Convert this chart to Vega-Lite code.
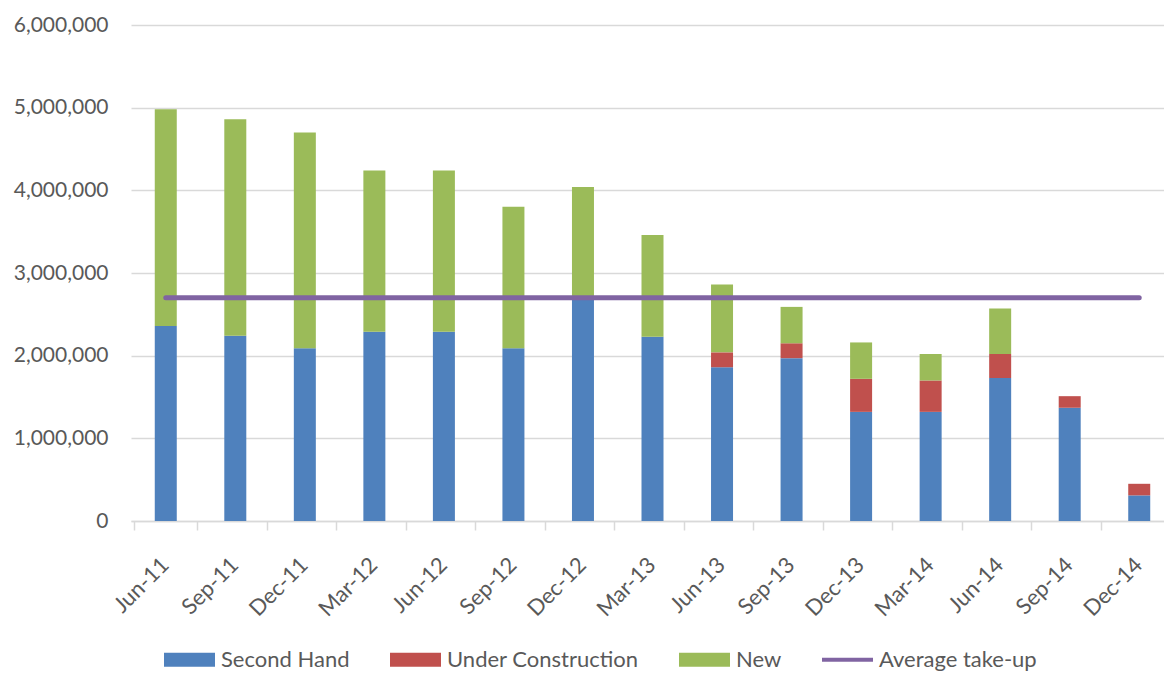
{
  "$schema": "https://vega.github.io/schema/vega-lite/v6.json",
  "autosize": "none",
  "padding": {"left": 131, "top": 25, "right": 0, "bottom": 152},
  "width": 1043,
  "height": 496,
  "background": "white",
  "config": {
    "view": {"stroke": null},
    "font": "Lato",
    "axis": {"labelFont": "Lato", "labelFontSize": 21, "labelColor": "#595959", "title": null}
  },
  "datasets": {
    "bars": [
      {"period": "Jun-11", "type": "Second Hand", "value": 2360000},
      {"period": "Jun-11", "type": "New", "value": 2620000},
      {"period": "Sep-11", "type": "Second Hand", "value": 2240000},
      {"period": "Sep-11", "type": "New", "value": 2620000},
      {"period": "Dec-11", "type": "Second Hand", "value": 2090000},
      {"period": "Dec-11", "type": "New", "value": 2610000},
      {"period": "Mar-12", "type": "Second Hand", "value": 2290000},
      {"period": "Mar-12", "type": "New", "value": 1950000},
      {"period": "Jun-12", "type": "Second Hand", "value": 2290000},
      {"period": "Jun-12", "type": "New", "value": 1950000},
      {"period": "Sep-12", "type": "Second Hand", "value": 2090000},
      {"period": "Sep-12", "type": "New", "value": 1710000},
      {"period": "Dec-12", "type": "Second Hand", "value": 2720000},
      {"period": "Dec-12", "type": "New", "value": 1320000},
      {"period": "Mar-13", "type": "Second Hand", "value": 2230000},
      {"period": "Mar-13", "type": "New", "value": 1230000},
      {"period": "Jun-13", "type": "Second Hand", "value": 1860000},
      {"period": "Jun-13", "type": "Under Construction", "value": 180000},
      {"period": "Jun-13", "type": "New", "value": 820000},
      {"period": "Sep-13", "type": "Second Hand", "value": 1970000},
      {"period": "Sep-13", "type": "Under Construction", "value": 180000},
      {"period": "Sep-13", "type": "New", "value": 440000},
      {"period": "Dec-13", "type": "Second Hand", "value": 1320000},
      {"period": "Dec-13", "type": "Under Construction", "value": 400000},
      {"period": "Dec-13", "type": "New", "value": 440000},
      {"period": "Mar-14", "type": "Second Hand", "value": 1320000},
      {"period": "Mar-14", "type": "Under Construction", "value": 380000},
      {"period": "Mar-14", "type": "New", "value": 320000},
      {"period": "Jun-14", "type": "Second Hand", "value": 1730000},
      {"period": "Jun-14", "type": "Under Construction", "value": 290000},
      {"period": "Jun-14", "type": "New", "value": 550000},
      {"period": "Sep-14", "type": "Second Hand", "value": 1370000},
      {"period": "Sep-14", "type": "Under Construction", "value": 140000},
      {"period": "Dec-14", "type": "Second Hand", "value": 310000},
      {"period": "Dec-14", "type": "Under Construction", "value": 140000}
    ],
    "avg": [
      {"period": "Jun-11", "avg": 2700000},
      {"period": "Sep-11", "avg": 2700000},
      {"period": "Dec-11", "avg": 2700000},
      {"period": "Mar-12", "avg": 2700000},
      {"period": "Jun-12", "avg": 2700000},
      {"period": "Sep-12", "avg": 2700000},
      {"period": "Dec-12", "avg": 2700000},
      {"period": "Mar-13", "avg": 2700000},
      {"period": "Jun-13", "avg": 2700000},
      {"period": "Sep-13", "avg": 2700000},
      {"period": "Dec-13", "avg": 2700000},
      {"period": "Mar-14", "avg": 2700000},
      {"period": "Jun-14", "avg": 2700000},
      {"period": "Sep-14", "avg": 2700000},
      {"period": "Dec-14", "avg": 2700000}
    ]
  },
  "layer": [
    {
      "data": {"name": "bars"},
      "transform": [
        {"calculate": "indexof(['Second Hand','Under Construction','New'], datum.type)", "as": "stackOrder"}
      ],
      "mark": {"type": "bar", "size": 22},
      "encoding": {
        "x": {
          "field": "period", "type": "nominal", "sort": null,
          "axis": {
            "tickBand": "extent",
            "labelAngle": -45,
            "labelPadding": 24,
            "labelOffset": -8,
            "labelFontSize": 22,
            "domainColor": "#D9D9D9",
            "domainWidth": 1.5,
            "tickColor": "#D9D9D9",
            "tickWidth": 1.5,
            "tickSize": 9,
            "grid": false
          }
        },
        "y": {
          "field": "value", "type": "quantitative", "stack": "zero",
          "scale": {"domain": [0, 6000000], "nice": false},
          "axis": {
            "values": [0, 1000000, 2000000, 3000000, 4000000, 5000000, 6000000],
            "format": ",d",
            "domain": false,
            "ticks": false,
            "labelPadding": 23,
            "gridColor": "#D9D9D9",
            "gridWidth": 1.5
          }
        },
        "color": {
          "field": "type", "type": "nominal",
          "scale": {
            "domain": ["Second Hand", "Under Construction", "New", "Average take-up"],
            "range": ["#4F81BD", "#C0504D", "#9BBB59", "#8064A2"]
          },
          "legend": {
            "title": null,
            "orient": "none",
            "direction": "horizontal",
            "legendX": 33,
            "legendY": 609,
            "padding": 0,
            "labelFont": "Lato",
            "labelFontSize": 22,
            "labelLimit": 400,
            "labelColor": "#595959",
            "labelOffset": 6,
            "columnPadding": 40,
            "symbolSize": 2601,
            "symbolStrokeWidth": 0,
            "encode": {
              "symbols": {
                "update": {
                  "shape": {"signal": "datum.value === 'Average take-up' ? 'M-1,-0.08H1V0.08H-1Z' : 'M-1,-0.275H1V0.275H-1Z'"},
                  "fill": {"scale": "color", "field": "value"},
                  "stroke": {"value": "transparent"},
                  "opacity": {"value": 1}
                }
              }
            }
          }
        },
        "order": {"field": "stackOrder", "type": "quantitative"}
      }
    },
    {
      "data": {"name": "avg"},
      "mark": {"type": "line", "strokeWidth": 5, "strokeCap": "round"},
      "encoding": {
        "x": {"field": "period", "type": "nominal", "sort": null},
        "y": {"field": "avg", "type": "quantitative"},
        "color": {"datum": "Average take-up"}
      }
    }
  ]
}
